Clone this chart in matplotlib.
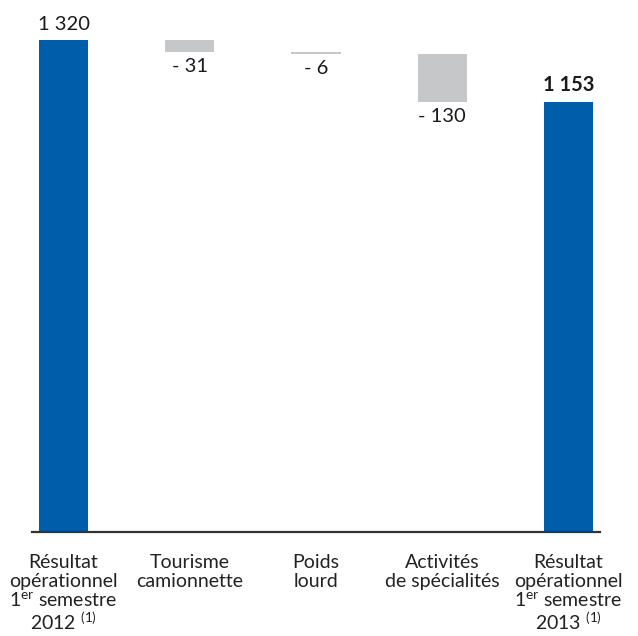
import numpy as np
import matplotlib
matplotlib.use('Agg')
import matplotlib.pyplot as plt

plt.rcParams['font.family'] = ['Lato', 'DejaVu Sans']
plt.rcParams['mathtext.fontset'] = 'custom'
plt.rcParams['mathtext.rm'] = 'Lato'
plt.rcParams['mathtext.it'] = 'Lato:italic'
plt.rcParams['mathtext.default'] = 'rm'

# data
categories = ['Résultat\nopérationnel\n1$^{er}$ semestre\n2012 $^{(1)}$',
              'Tourisme\ncamionnette',
              'Poids\nlourd',
              'Activités\nde spécialités',
              'Résultat\nopérationnel\n1$^{er}$ semestre\n2013 $^{(1)}$']
values = [1320, -31, -6, -130, 1153]
labels = ['1 320', '- 31', '- 6', '- 130', '1 153']
is_total = [True, False, False, False, True]

blue = '#005DAA'
grey = '#C6C7C9'

fig = plt.figure(figsize=(6.38, 6.36), dpi=100)
ax = fig.add_axes([32 / 638, (636 - 532) / 636, 568 / 638, 532 / 636])

x = np.arange(len(values))
running = 0
for i, (v, tot) in enumerate(zip(values, is_total)):
    if tot:
        running = v
        ax.bar(x[i], v, width=0.389, color=blue)
        ax.annotate(labels[i], (x[i], v), xytext=(0, 7), textcoords='offset pixels',
                    ha='center', va='bottom', fontsize=14.5,
                    fontweight='bold' if i > 0 else 'normal', color='#1a1a1a')
    else:
        bottom = running + v
        ax.bar(x[i], -v, bottom=bottom, width=0.389, color=grey)
        running = bottom
        ax.annotate(labels[i], (x[i], bottom), xytext=(0, -6), textcoords='offset pixels',
                    ha='center', va='top', fontsize=14.5, color='#1a1a1a')

ax.set_xlim(-0.25, 4.25)
ax.set_ylim(0, 1427.4)
ax.set_xticks(x)
ax.set_xticklabels(categories, fontsize=14, color='#222222', linespacing=1.1)
ax.tick_params(axis='x', length=0, pad=16)
ax.set_yticks([])
for s in ['top', 'left', 'right']:
    ax.spines[s].set_visible(False)
ax.spines['bottom'].set_color('#333333')
ax.spines['bottom'].set_linewidth(1.6)

fig.savefig('out.png', dpi=100)
